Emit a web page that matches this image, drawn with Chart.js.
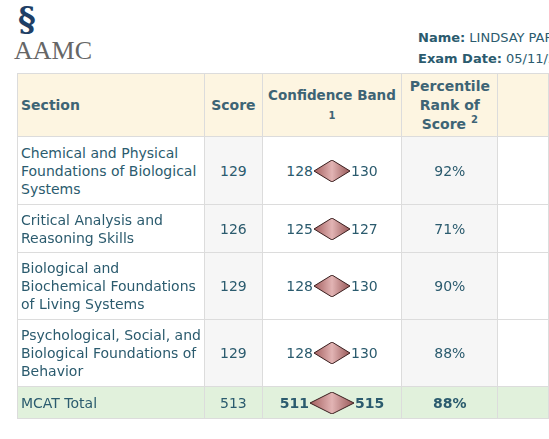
<!DOCTYPE html>
<html><head><meta charset="utf-8">
<script src="https://cdn.jsdelivr.net/npm/chart.js@4"></script>
<style>
body{margin:0;width:549px;height:439px;overflow:hidden;background:#fff;font-family:"DejaVu Sans",sans-serif;color:#2b5b6e;position:relative}
#logo{position:absolute;left:14px;top:4px}
#hdr{position:absolute;left:418px;top:27px;font-size:13px;line-height:21px;white-space:nowrap}
table{position:absolute;left:17px;top:73px;border-collapse:collapse;font-size:14px;table-layout:fixed}
td,th{border:1px solid #dcdcdc;padding:0 2px}
th{background:#fdf5e1;font-weight:bold;height:62px;color:#3d6475;line-height:19px;padding:0}
td{text-align:center}
td.s{text-align:left;padding-left:3px;line-height:18px}
th.s{text-align:left;padding-left:3px}
.g{background:#f6f6f6}
tr.tot td{background:#e1f1dc;height:31px}
tr.tot .b{font-weight:bold}
.band{display:inline-flex;align-items:center}
.band canvas{display:block}
</style></head><body>
<div id="logo"><div style="color:#1f3f66;font:bold 34px 'DejaVu Serif';line-height:30px;margin-left:4px">§</div><div style="color:#666;font:26px 'Liberation Serif';margin-top:2px">AAMC</div></div>
<div id="hdr"><b>Name:</b> LINDSAY PARKER<br><b>Exam Date:</b> 05/11/2015</div>
<table id="t">
<colgroup><col style="width:204px"><col style="width:60px"><col style="width:142px"><col style="width:99px"><col style="width:60px"></colgroup>
<tr><th class="s">Section</th><th>Score</th><th style="white-space:nowrap;font-size:13.5px">Confidence Band<br><span style="font-size:10px">1</span></th><th>Percentile<br>Rank of<br>Score <sup style="font-size:10px;line-height:0">2</sup></th><th></th></tr>
</table>
<script>
const sections=["Chemical and Physical Foundations of Biological Systems","Critical Analysis and Reasoning Skills","Biological and Biochemical Foundations of Living Systems","Psychological, Social, and Biological Foundations of Behavior","MCAT Total"];
const scores=[129,126,129,129,513];
const bandLow=[128,125,128,128,511];
const bandHigh=[130,127,130,130,515];
const percentiles=["92%","71%","90%","88%","88%"];
const rowHeights=[68,48,67,67,32];
const t=document.getElementById('t');
sections.forEach((s,i)=>{
  const tr=document.createElement('tr');
  const last=i===sections.length-1;
  if(last)tr.className='tot';
  tr.innerHTML=`<td class="s" style="height:${rowHeights[i]-1}px">${s}</td><td class="g">${scores[i]}</td><td class="b"><span class="band"><span>${bandLow[i]}</span><canvas id="c${i}" width="${last?46:38}" height="24"></canvas><span>${bandHigh[i]}</span></span></td><td class="g b">${percentiles[i]}</td><td></td>`;
  t.appendChild(tr);
  const mid=(bandLow[i]+bandHigh[i])/2;
  new Chart(document.getElementById('c'+i),{type:'scatter',
    data:{datasets:[{data:[{x:bandLow[i],y:0},{x:mid,y:1},{x:bandHigh[i],y:0},{x:mid,y:-1},{x:bandLow[i],y:0}],
      showLine:true,fill:'shape',pointRadius:0,borderColor:'#3a1f1f',borderWidth:1,tension:0,
      backgroundColor:c=>{const w=c.chart.width;const g=c.chart.ctx.createLinearGradient(0,0,w,0);g.addColorStop(0,'#a05a5a');g.addColorStop(0.5,'#e2b4b4');g.addColorStop(1,'#935252');return g;}}]},
    options:{responsive:false,animation:false,layout:{padding:{left:1,right:1,top:1,bottom:1}},plugins:{legend:{display:false},tooltip:{enabled:false}},
      scales:{x:{display:false,min:bandLow[i],max:bandHigh[i]},y:{display:false,min:-1,max:1}}}});
});
</script>
</body></html>
